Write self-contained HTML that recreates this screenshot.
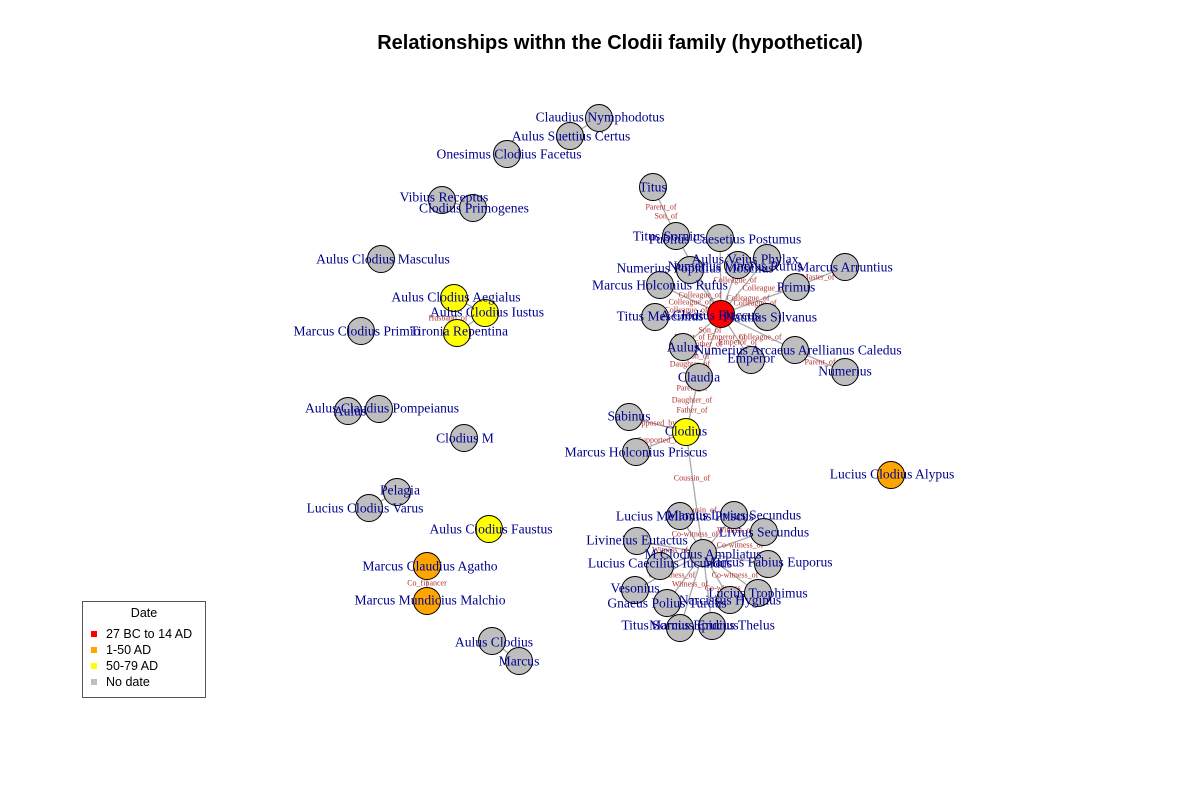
<!DOCTYPE html>
<html><head><meta charset="utf-8"><style>
html,body{margin:0;padding:0;background:#fff;}
svg{display:block}
.t{font-family:"Liberation Serif",serif;font-size:13.6px;fill:#00008b;text-anchor:middle;dominant-baseline:central}
.e{font-family:"Liberation Serif",serif;font-size:8px;fill:#b03030;text-anchor:middle;dominant-baseline:central}
.l{stroke:#aaa;stroke-width:1.3}
circle{stroke:#000;stroke-width:1}
</style></head><body>
<svg width="1200" height="800" viewBox="0 0 1200 800" xmlns="http://www.w3.org/2000/svg">
<text x="620" y="43" font-family="Liberation Sans,sans-serif" font-weight="bold" font-size="20" text-anchor="middle" dominant-baseline="central">Relationships withn the Clodii family (hypothetical)</text>
<g class="l">
<line x1="653" y1="187" x2="676" y2="236"/>
<line x1="721" y1="314" x2="676" y2="236"/>
<line x1="721" y1="314" x2="720" y2="238"/>
<line x1="721" y1="314" x2="690" y2="270"/>
<line x1="721" y1="314" x2="738" y2="265"/>
<line x1="721" y1="314" x2="767" y2="258"/>
<line x1="721" y1="314" x2="796" y2="287"/>
<line x1="796" y1="287" x2="845" y2="267"/>
<line x1="721" y1="314" x2="660" y2="285"/>
<line x1="721" y1="314" x2="655" y2="317"/>
<line x1="721" y1="314" x2="767" y2="317"/>
<line x1="721" y1="314" x2="683" y2="347"/>
<line x1="721" y1="314" x2="795" y2="350"/>
<line x1="721" y1="314" x2="751" y2="360"/>
<line x1="721" y1="314" x2="699" y2="377"/>
<line x1="795" y1="350" x2="845" y2="372"/>
<line x1="699" y1="377" x2="686" y2="432"/>
<line x1="686" y1="432" x2="629" y2="417"/>
<line x1="686" y1="432" x2="636" y2="452"/>
<line x1="686" y1="432" x2="703" y2="553"/>
<line x1="703" y1="553" x2="680" y2="516"/>
<line x1="703" y1="553" x2="734" y2="515"/>
<line x1="703" y1="553" x2="764" y2="532"/>
<line x1="703" y1="553" x2="637" y2="541"/>
<line x1="703" y1="553" x2="660" y2="566"/>
<line x1="703" y1="553" x2="768" y2="564"/>
<line x1="703" y1="553" x2="635" y2="590"/>
<line x1="703" y1="553" x2="667" y2="603"/>
<line x1="703" y1="553" x2="758" y2="593"/>
<line x1="703" y1="553" x2="730" y2="600"/>
<line x1="703" y1="553" x2="680" y2="628"/>
<line x1="703" y1="553" x2="712" y2="626"/>
<line x1="599" y1="118" x2="570" y2="136"/>
<line x1="442" y1="200" x2="473" y2="208"/>
<line x1="454" y1="298" x2="485" y2="313"/><line x1="485" y1="313" x2="457" y2="333"/>
<line x1="348" y1="411" x2="379" y2="409"/>
<line x1="397" y1="492" x2="369" y2="508"/>
<line x1="427" y1="566" x2="427" y2="601"/>
<line x1="492" y1="641" x2="519" y2="661"/>
</g>
<g class="e">
<text x="661" y="207">Parent_of</text><text x="666" y="216">Son_of</text>
<text x="735" y="280">Colleague_of</text><text x="700" y="295">Colleague_of</text>
<text x="690" y="302">Colleague_of</text><text x="748" y="298">Colleague_of</text>
<text x="764" y="288">Colleague_of</text><text x="755" y="303">Colleague_of</text>
<text x="686" y="310">Colleague_of</text><text x="710" y="330">Son_of</text>
<text x="710" y="337">Parent_of Emperor_of</text><text x="705" y="344">Brother_of</text>
<text x="738" y="342">Emperor_of</text><text x="760" y="337">Colleague_of</text>
<text x="698" y="356">Son_of</text><text x="690" y="364">Daughter_of</text>
<text x="820" y="362">Parent_of</text><text x="818" y="277">Master_of</text>
<text x="692" y="388">Parent_of</text><text x="692" y="400">Daughter_of</text><text x="692" y="410">Father_of</text>
<text x="656" y="423">Opposed_by</text><text x="660" y="440">Supported_by</text>
<text x="692" y="478">Coussin_of</text>
<text x="700" y="510">Cousin_of</text><text x="695" y="534">Co-witness_of</text>
<text x="735" y="530">Witness_of</text><text x="740" y="545">Co-witness_of</text>
<text x="670" y="550">Witness_of</text><text x="672" y="575">Co-witness_of</text>
<text x="735" y="575">Co-witness_of</text><text x="690" y="584">Witness_of</text>
<text x="728" y="588">Co-witness_of</text><text x="427" y="583">Co_financer</text>
<text x="448" y="318">Husband_of</text>
</g>
<g>
<circle cx="653" cy="187" r="13.5" fill="#bebebe"/>
<circle cx="676" cy="236" r="13.5" fill="#bebebe"/>
<circle cx="720" cy="238" r="13.5" fill="#bebebe"/>
<circle cx="690" cy="270" r="13.5" fill="#bebebe"/>
<circle cx="738" cy="265" r="13.5" fill="#bebebe"/>
<circle cx="767" cy="258" r="13.5" fill="#bebebe"/>
<circle cx="845" cy="267" r="13.5" fill="#bebebe"/>
<circle cx="796" cy="287" r="13.5" fill="#bebebe"/>
<circle cx="660" cy="285" r="13.5" fill="#bebebe"/>
<circle cx="655" cy="317" r="13.5" fill="#bebebe"/>
<circle cx="767" cy="317" r="13.5" fill="#bebebe"/>
<circle cx="721" cy="314" r="13.5" fill="#ff0000"/>
<circle cx="683" cy="347" r="13.5" fill="#bebebe"/>
<circle cx="795" cy="350" r="13.5" fill="#bebebe"/>
<circle cx="751" cy="360" r="13.5" fill="#bebebe"/>
<circle cx="845" cy="372" r="13.5" fill="#bebebe"/>
<circle cx="699" cy="377" r="13.5" fill="#bebebe"/>
<circle cx="629" cy="417" r="13.5" fill="#bebebe"/>
<circle cx="686" cy="432" r="13.5" fill="#ffff00"/>
<circle cx="636" cy="452" r="13.5" fill="#bebebe"/>
<circle cx="680" cy="516" r="13.5" fill="#bebebe"/>
<circle cx="734" cy="515" r="13.5" fill="#bebebe"/>
<circle cx="764" cy="532" r="13.5" fill="#bebebe"/>
<circle cx="637" cy="541" r="13.5" fill="#bebebe"/>
<circle cx="703" cy="553" r="13.5" fill="#bebebe"/>
<circle cx="660" cy="566" r="13.5" fill="#bebebe"/>
<circle cx="768" cy="564" r="13.5" fill="#bebebe"/>
<circle cx="635" cy="590" r="13.5" fill="#bebebe"/>
<circle cx="667" cy="603" r="13.5" fill="#bebebe"/>
<circle cx="758" cy="593" r="13.5" fill="#bebebe"/>
<circle cx="730" cy="600" r="13.5" fill="#bebebe"/>
<circle cx="680" cy="628" r="13.5" fill="#bebebe"/>
<circle cx="712" cy="626" r="13.5" fill="#bebebe"/>
<circle cx="599" cy="118" r="13.5" fill="#bebebe"/>
<circle cx="570" cy="136" r="13.5" fill="#bebebe"/>
<circle cx="507" cy="154" r="13.5" fill="#bebebe"/>
<circle cx="442" cy="200" r="13.5" fill="#bebebe"/>
<circle cx="473" cy="208" r="13.5" fill="#bebebe"/>
<circle cx="381" cy="259" r="13.5" fill="#bebebe"/>
<circle cx="454" cy="298" r="13.5" fill="#ffff00"/>
<circle cx="485" cy="313" r="13.5" fill="#ffff00"/>
<circle cx="457" cy="333" r="13.5" fill="#ffff00"/>
<circle cx="361" cy="331" r="13.5" fill="#bebebe"/>
<circle cx="348" cy="411" r="13.5" fill="#bebebe"/>
<circle cx="379" cy="409" r="13.5" fill="#bebebe"/>
<circle cx="464" cy="438" r="13.5" fill="#bebebe"/>
<circle cx="891" cy="475" r="13.5" fill="#ffa500"/>
<circle cx="397" cy="492" r="13.5" fill="#bebebe"/>
<circle cx="369" cy="508" r="13.5" fill="#bebebe"/>
<circle cx="489" cy="529" r="13.5" fill="#ffff00"/>
<circle cx="427" cy="566" r="13.5" fill="#ffa500"/>
<circle cx="427" cy="601" r="13.5" fill="#ffa500"/>
<circle cx="492" cy="641" r="13.5" fill="#bebebe"/>
<circle cx="519" cy="661" r="13.5" fill="#bebebe"/>
</g>
<g class="t">
<text x="653" y="187">Titus</text>
<text x="669" y="236">Titus Sornius</text>
<text x="725" y="239">Publius Caesetius Postumus</text>
<text x="695" y="268">Numerius Popidius Moschus</text>
<text x="745" y="259">Aulus Vejus Phylax</text>
<text x="735" y="266">Numerius Vinnius Rufus</text>
<text x="845" y="267">Marcus Arruntius</text>
<text x="796" y="287">Primus</text>
<text x="660" y="285">Marcus Holconius Rufus</text>
<text x="660" y="316">Titus Mescinius</text>
<text x="710" y="315">A Clodius Flaccus</text>
<text x="770" y="317">Plautius Silvanus</text>
<text x="683" y="347">Aulus</text>
<text x="798" y="350">Numerius Arcaeus Arellianus Caledus</text>
<text x="751" y="358">Emperor</text>
<text x="845" y="371">Numerius</text>
<text x="699" y="377">Claudia</text>
<text x="629" y="416">Sabinus</text>
<text x="686" y="431">Clodius</text>
<text x="636" y="452">Marcus Holconius Priscus</text>
<text x="685" y="516">Lucius Mellonius Priscus</text>
<text x="734" y="515">Marcus Livius Secundus</text>
<text x="764" y="532">Livius Secundus</text>
<text x="637" y="540">Livineius Eutactus</text>
<text x="703" y="554">M Clodius Ampliatus</text>
<text x="660" y="563">Lucius Caecilius Iucundus</text>
<text x="768" y="562">Marcus Fabius Euporus</text>
<text x="635" y="588">Vesonius</text>
<text x="667" y="603">Gnaeus Polius Turdus</text>
<text x="758" y="593">Lucius Trophimus</text>
<text x="730" y="600">Narcissus Hyginus</text>
<text x="680" y="625">Titus Sornius Erucius</text>
<text x="712" y="625">Marcus Epidius Thelus</text>
<text x="600" y="117">Claudius Nymphodotus</text>
<text x="571" y="136">Aulus Suettius Certus</text>
<text x="509" y="154">Onesimus Clodius Facetus</text>
<text x="444" y="197">Vibius Receptus</text>
<text x="474" y="208">Clodius Primogenes</text>
<text x="383" y="259">Aulus Clodius Masculus</text>
<text x="456" y="297">Aulus Clodius Aegialus</text>
<text x="487" y="312">Aulus Clodius Iustus</text>
<text x="459" y="331">Tironia Repentina</text>
<text x="357" y="331">Marcus Clodius Primio</text>
<text x="350" y="411">Aulus</text>
<text x="382" y="408">Aulus Claudius Pompeianus</text>
<text x="465" y="438">Clodius M</text>
<text x="892" y="474">Lucius Clodius Alypus</text>
<text x="400" y="490">Pelagia</text>
<text x="365" y="508">Lucius Clodius Varus</text>
<text x="491" y="529">Aulus Clodius Faustus</text>
<text x="430" y="566">Marcus Claudius Agatho</text>
<text x="430" y="600">Marcus Mundicius Malchio</text>
<text x="494" y="642">Aulus Clodius</text>
<text x="519" y="661">Marcus</text>
</g>
<rect x="82.5" y="601.5" width="123" height="96" fill="none" stroke="#555" stroke-width="1"/>
<g font-family="Liberation Sans,sans-serif" font-size="12.5" dominant-baseline="central">
<text x="144" y="613" text-anchor="middle">Date</text>
<rect x="91" y="631" width="6" height="6" fill="#ff0000"/><text x="106" y="634">27 BC to 14 AD</text>
<rect x="91" y="647" width="6" height="6" fill="#ffa500"/><text x="106" y="650">1-50 AD</text>
<rect x="91" y="663" width="6" height="6" fill="#ffff00"/><text x="106" y="666">50-79 AD</text>
<rect x="91" y="679" width="6" height="6" fill="#bebebe"/><text x="106" y="682">No date</text>
</g>
</svg>
</body></html>
